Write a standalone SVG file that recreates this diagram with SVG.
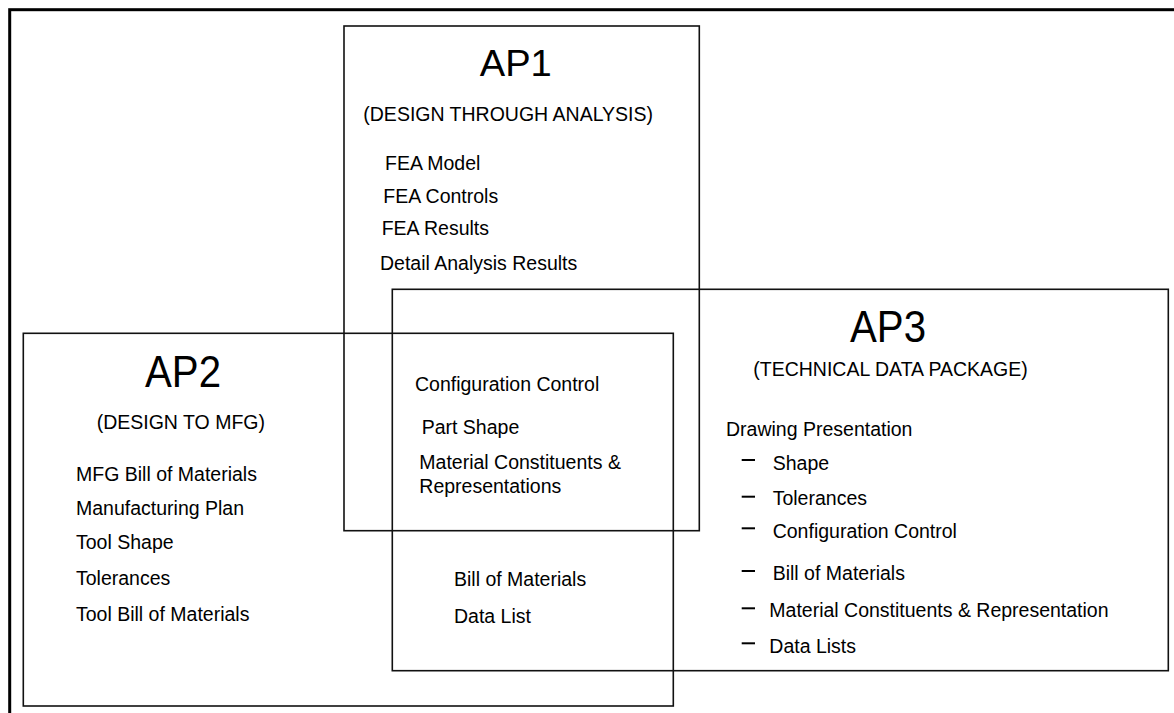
<svg xmlns="http://www.w3.org/2000/svg" width="1174" height="713" viewBox="0 0 1174 713">
  <style>
    .frame { fill: none; stroke: #000; stroke-width: 3; }
    .box { fill: none; stroke: #111; stroke-width: 1.6; }
    .title { font-family: "Liberation Sans", Arial, sans-serif; fill: #000; text-anchor: middle; }
    .item { font-family: "Liberation Sans", Arial, sans-serif; font-size: 19.5px; fill: #000; }
    .dash { stroke: #000; stroke-width: 2; }
  </style>
  <rect width="1174" height="713" fill="#fff"/>
  <!-- page frame, running off the right and bottom edges -->
  <rect class="frame" x="9.7" y="9.7" width="1300" height="900"/>

  <g id="ap1">
    <rect class="box" x="344" y="26" width="355.3" height="504.7"/>
    <text class="title" x="515.8" y="76" font-size="36.5" textLength="72" lengthAdjust="spacingAndGlyphs">AP1</text>
    <text class="item" x="363.3" y="121">(DESIGN THROUGH ANALYSIS)</text>
    <text class="item" x="385" y="170">FEA Model</text>
    <text class="item" x="383.3" y="203">FEA Controls</text>
    <text class="item" x="381.7" y="235">FEA Results</text>
    <text class="item" x="380" y="269.5">Detail Analysis Results</text>
  </g>

  <g id="ap2">
    <rect class="box" x="23.3" y="333.3" width="650" height="372.7"/>
    <text class="title" x="183" y="386.7" font-size="45" textLength="76" lengthAdjust="spacingAndGlyphs">AP2</text>
    <text class="item" x="96.7" y="429">(DESIGN TO MFG)</text>
    <text class="item" x="76" y="480.5">MFG Bill of Materials</text>
    <text class="item" x="76" y="515">Manufacturing Plan</text>
    <text class="item" x="76" y="548.5">Tool Shape</text>
    <text class="item" x="76" y="584.5">Tolerances</text>
    <text class="item" x="76" y="620.5">Tool Bill of Materials</text>
  </g>

  <g id="ap3">
    <rect class="box" x="392.3" y="289.3" width="776" height="381.4"/>
    <text class="title" x="888" y="341.7" font-size="45" textLength="76" lengthAdjust="spacingAndGlyphs">AP3</text>
    <text class="item" x="753.3" y="376">(TECHNICAL DATA PACKAGE)</text>
    <text class="item" x="726" y="436">Drawing Presentation</text>
    <line class="dash" x1="741.7" y1="460" x2="755" y2="460"/>
    <text class="item" x="772.7" y="470">Shape</text>
    <line class="dash" x1="741.7" y1="496.7" x2="755" y2="496.7"/>
    <text class="item" x="772.7" y="505">Tolerances</text>
    <line class="dash" x1="741.7" y1="528.3" x2="755" y2="528.3"/>
    <text class="item" x="772.7" y="538.3">Configuration Control</text>
    <line class="dash" x1="741.7" y1="571" x2="755" y2="571"/>
    <text class="item" x="772.7" y="580">Bill of Materials</text>
    <line class="dash" x1="741.7" y1="608.3" x2="755" y2="608.3"/>
    <text class="item" x="769.3" y="617.3">Material Constituents &amp; Representation</text>
    <line class="dash" x1="741.7" y1="643.3" x2="755" y2="643.3"/>
    <text class="item" x="769.3" y="652.7">Data Lists</text>
  </g>

  <!-- shared items in the overlapping area -->
  <g id="shared">
    <text class="item" x="415" y="391">Configuration Control</text>
    <text class="item" x="421.7" y="434">Part Shape</text>
    <text class="item" x="419.3" y="469.3">Material Constituents &amp;</text>
    <text class="item" x="419.3" y="493.3">Representations</text>
    <text class="item" x="454" y="586">Bill of Materials</text>
    <text class="item" x="454" y="622.7">Data List</text>
  </g>

  <g id="connectors"/>
</svg>
